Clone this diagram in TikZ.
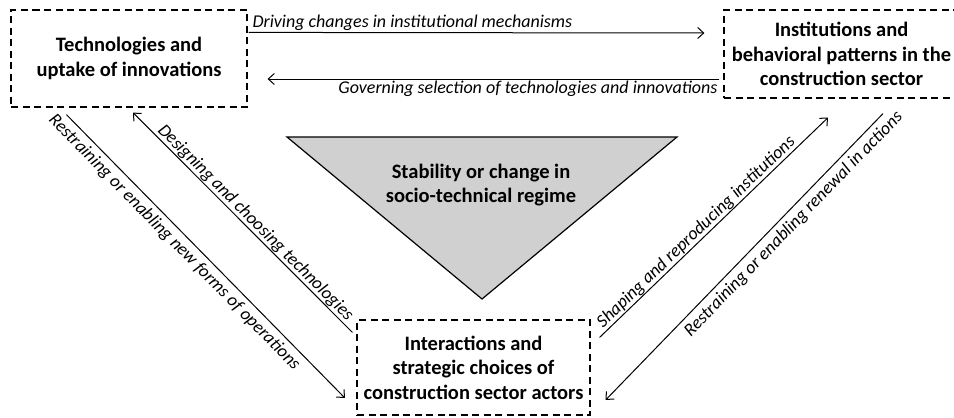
\documentclass[tikz,border=0pt]{standalone}
\usepackage{fontspec}
\setmainfont{Carlito}
\usetikzlibrary{arrows.meta,calc}
\begin{document}
\begin{tikzpicture}[x=1pt,y=-1pt,
  dbox/.style={draw,dashed,dash pattern=on 7pt off 4.5pt,line width=1.2pt,inner sep=0pt,
     align=center,font=\fontsize{20.5}{24.5}\selectfont\bfseries},
  conn/.style={line width=1pt,-{Straight Barb[length=6pt,width=11pt,line width=1pt]}},
  conr/.style={line width=1pt,{Straight Barb[length=6pt,width=11pt,line width=1pt]}-},
  lab/.style={font=\fontsize{18}{21}\selectfont\itshape,inner sep=2pt}]
\useasboundingbox (0,0) rectangle (954,418);
\node[dbox,minimum width=236pt,minimum height=97pt] (tech) at (129,58.5)
  {Technologies and\\uptake of innovations};
\node[dbox,minimum width=235pt,minimum height=88pt] (inst) at (841.5,54)
  {Institutions and\\behavioral patterns in the\\construction sector};
\node[dbox,minimum width=233pt,minimum height=95pt] (act) at (473.5,367.5)
  {Interactions and\\strategic choices of\\construction sector actors};
\coordinate (tl) at (287,137);
\coordinate (tr) at (677,137);
\coordinate (tb) at (482,299);
\draw[line width=1.2pt,fill={rgb,255:red,208;green,208;blue,208}] (tl) -- (tr) -- (tb) -- cycle;
\node[align=center,font=\fontsize{20.5}{24.5}\selectfont\bfseries] (reg) at (481,185)
  {Stability or change in\\socio-technical regime};
% top arrows
\draw[conn] ($(tech.north east)+(1,23)$) -- ($(inst.west)+(-19,-21)$)
  node[lab,at start,anchor=south west,xshift=2pt,inner sep=1.5pt] {Driving changes in institutional mechanisms};
\draw[conn] ($(inst.west)+(-4,25)$) -- ($(tech.east)+(20,20.5)$)
  node[lab,at start,anchor=north east,inner sep=1.5pt] {Governing selection of technologies and innovations};
% left diagonals
\draw[conn] ($(tech.south west)+(56,7)$) -- ($(act.west)+(-11.5,30.5)$)
  node[lab,pos=0.42,sloped,below,inner sep=4.5pt] {Restraining or enabling new forms of operations};
\draw[conr] ($(tech.south)+(4,5)$) -- ($(act.north west)+(-4,13)$)
  node[lab,pos=0.53,sloped,above,inner sep=0.5pt] {Designing and choosing technologies};
% right diagonals
\draw[conn] ($(act.north east)+(9,18)$) -- ($(inst.south)+(-13.5,19)$)
  node[lab,pos=0.45,sloped,above,inner sep=0.5pt] {Shaping and reproducing institutions};
\draw[conr] ($(act.east)+(15,32.5)$) -- ($(inst.south)+(41.5,15)$)
  node[lab,pos=0.645,sloped,below,inner sep=4.5pt] {Restraining or enabling renewal in actions};
\end{tikzpicture}
\end{document}
